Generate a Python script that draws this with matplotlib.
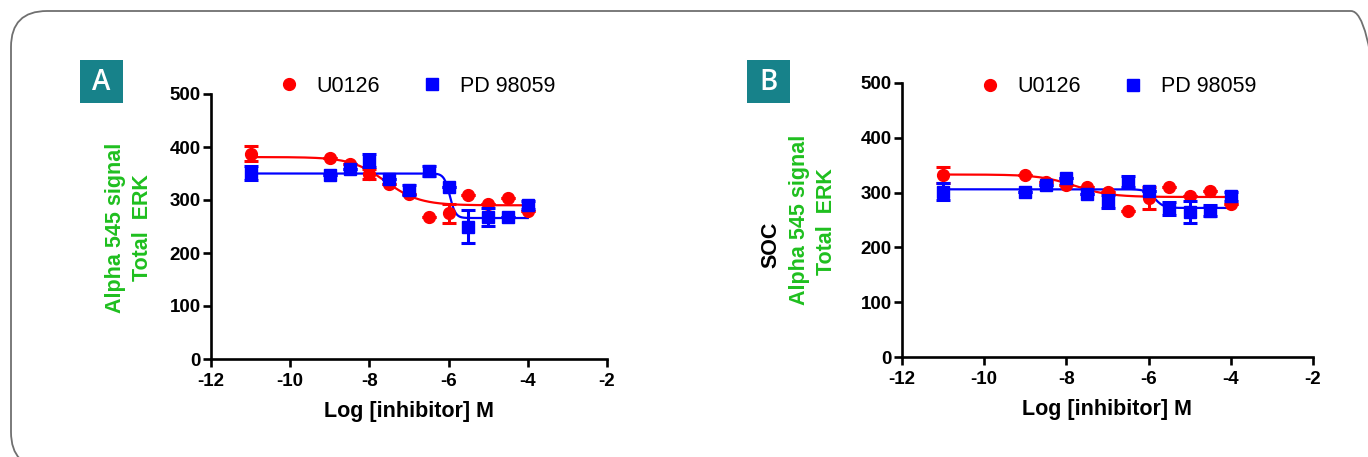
import numpy as np
import matplotlib
matplotlib.use("Agg")
import matplotlib.pyplot as plt
from matplotlib.patches import FancyBboxPatch, Rectangle
from matplotlib.lines import Line2D

plt.rcParams['font.family'] = ['Liberation Sans', 'DejaVu Sans']

# ---------------- data ----------------
log_conc = [-11, -9, -8.5, -8, -7.5, -7, -6.5, -6, -5.5, -5, -4.5, -4]

# Panel A (Total ERK)
a_u0126 = [387, 379, 368, 349, 331, 312, 268, 275, 309, 292, 303, 279]
a_u0126_err = [14, 0, 0, 10, 0, 0, 0, 18, 0, 0, 0, 0]
a_pd = [351, 348, 358, 374, 340, 319, 355, 324, 250, 268, 268, 291]
a_pd_err = [14, 0, 0, 12, 0, 10, 10, 0, 32, 17, 0, 8]

# Panel B (SOC Total ERK)
b_u0126 = [332, 332, 320, 314, 310, 302, 266, 290, 311, 293, 303, 280]
b_u0126_err = [15, 0, 0, 0, 0, 0, 0, 20, 0, 0, 0, 0]
b_pd = [302, 302, 314, 326, 297, 283, 320, 303, 271, 265, 267, 293]
b_pd_err = [15, 0, 0, 0, 0, 12, 10, 0, 12, 20, 10, 8]

# fitted 4PL parameters: (bottom, top, logIC50, hill)
a_u0126_fit = (290, 381, -7.6, 1.0)
a_pd_fit = (266, 350, -5.97, 6.0)
b_u0126_fit = (292, 333, -7.8, 1.0)
b_pd_fit = (272, 306, -5.85, 4.0)

series_names = ['U0126', 'PD 98059']
x_ticks = [-12, -10, -8, -6, -4, -2]
y_ticks = [0, 100, 200, 300, 400, 500]

RED = '#ff0000'
BLUE = '#0000ff'
GREEN = '#1fbf1f'
TEAL = '#17828a'

W, H = 1368, 457
fig = plt.figure(figsize=(W / 100, H / 100), dpi=100)

# background frame and badges (pixel coords, y measured from top -> converted)
bg = fig.add_axes([0, 0, 1, 1], zorder=-5)
bg.set_xlim(0, W)
bg.set_ylim(0, H)
bg.axis('off')
fx0, fy0, fx1, fy1 = 11, 11, 1387, 468
bg.add_patch(FancyBboxPatch((fx0, H - fy1), fx1 - fx0, fy1 - fy0,
                            boxstyle="round,pad=0,rounding_size=36",
                            fill=False, ec='#707070', lw=1.3, clip_on=False))
for (bx, by, letter) in [(80, 60, 'A'), (747, 60, 'B')]:
    bg.add_patch(Rectangle((bx, H - by - 43), 43, 43, color=TEAL, lw=0))
    bg.text(bx + 21.5, H - by - 22, letter, color='white', fontsize=20,
            ha='center', va='center', family='Open Sans', fontweight='semibold')


def fourpl(x, p):
    bottom, top, logic50, hill = p
    return bottom + (top - bottom) / (1 + 10 ** ((x - logic50) * hill))


def draw_panel(rect, red, red_err, blue, blue_err, red_fit, blue_fit, legend_anchor):
    ax = fig.add_axes(rect)
    xs = np.linspace(min(log_conc), max(log_conc), 400)
    ax.plot(xs, fourpl(xs, red_fit), color=RED, lw=1.6, zorder=3)
    ax.plot(xs, fourpl(xs, blue_fit), color=BLUE, lw=1.6, zorder=3)
    ax.errorbar(log_conc, red, yerr=red_err, fmt='o', color=RED, ms=8.5,
                elinewidth=2.2, capsize=5, capthick=2.2, zorder=4)
    ax.errorbar(log_conc, blue, yerr=blue_err, fmt='s', color=BLUE, ms=8.5,
                elinewidth=2.2, capsize=5, capthick=2.2, zorder=5)
    ax.set_xlim(-12, -2)
    ax.set_ylim(0, 500)
    ax.set_xticks(x_ticks)
    ax.set_yticks(y_ticks)
    ax.set_xticklabels([str(t) for t in x_ticks])
    ax.set_yticklabels([str(t) for t in y_ticks])
    for s in ['top', 'right']:
        ax.spines[s].set_visible(False)
    for s in ['left', 'bottom']:
        ax.spines[s].set_linewidth(1.9)
    ax.tick_params(direction='out', length=6, width=1.9, labelsize=13.5, pad=1.5)
    ax.tick_params(axis='x', pad=4)
    for lab in ax.get_xticklabels() + ax.get_yticklabels():
        lab.set_fontweight('bold')
    ax.set_xlabel('Log [inhibitor] M', fontsize=15.5, fontweight='bold', labelpad=8)
    handles = [Line2D([], [], marker='o', color=RED, ls='none', ms=8.5),
               Line2D([], [], marker='s', color=BLUE, ls='none', ms=8.5)]
    fig.legend(handles, series_names, loc='center left', bbox_to_anchor=legend_anchor,
               ncol=2, frameon=False, fontsize=15.5, handlelength=1.0,
               handletextpad=0.8, columnspacing=1.9, borderpad=0, borderaxespad=0)
    return ax


axA = draw_panel([211 / W, 1 - 359 / H, 396 / W, 265 / H],
                 a_u0126, a_u0126_err, a_pd, a_pd_err, a_u0126_fit, a_pd_fit,
                 (278 / W, 1 - 86 / H))
axB = draw_panel([902 / W, 1 - 357 / H, 411 / W, 274 / H],
                 b_u0126, b_u0126_err, b_pd, b_pd_err, b_u0126_fit, b_pd_fit,
                 (979 / W, 1 - 87 / H))

# y labels
ylab_kw = dict(rotation=90, fontsize=15.5, fontweight='bold', ha='center', va='center')
fig.text(115 / W, 1 - 228 / H, 'Alpha 545 signal', color=GREEN, **ylab_kw)
fig.text(142 / W, 1 - 228 / H, 'Total  ERK', color=GREEN, **ylab_kw)

fig.text(771 / W, 1 - 245 / H, 'SOC', color='black', **ylab_kw)
fig.text(800 / W, 1 - 220 / H, 'Alpha 545 signal', color=GREEN, **ylab_kw)
fig.text(827 / W, 1 - 222 / H, 'Total  ERK', color=GREEN, **ylab_kw)

fig.savefig('out.png', dpi=100)
